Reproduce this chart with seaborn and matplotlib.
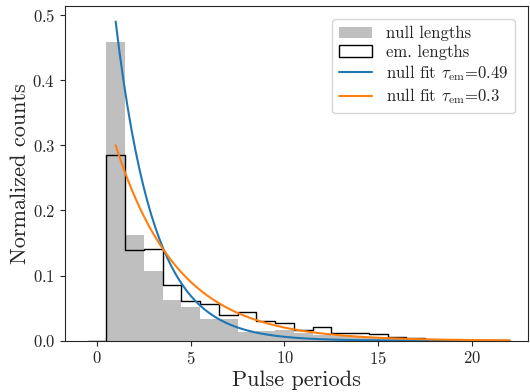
import numpy as np
import pandas as pd
import matplotlib
matplotlib.use("Agg")
import matplotlib.pyplot as plt
import seaborn as sns
from matplotlib.patches import Patch
from matplotlib.lines import Line2D

# ---- data (normalized counts per 1-period bin) ----
null_periods = list(range(1, 22))
null_heights = [0.459, 0.162, 0.1075, 0.062, 0.052, 0.034, 0.034, 0.0129, 0.015,
                0.017, 0.012, 0.009, 0.007, 0.005, 0.004, 0.003, 0.002, 0.0015,
                0.001, 0.001, 0.001]
em_periods = list(range(0, 22))
em_heights = [0.0, 0.285, 0.139, 0.141, 0.086, 0.0614, 0.0559, 0.0395, 0.0446,
              0.0307, 0.0277, 0.017, 0.0215, 0.0125, 0.0125, 0.0105, 0.006,
              0.0036, 0.0, 0.0, 0.0, 0.0]
# exponential fit curves: rate tau, starting at 1 pulse period
fit_taus = [0.49, 0.3]
fit_labels = [r"null fit $\tau_{\rm em}$=0.49", r"null fit $\tau_{\rm em}$=0.3"]
fit_colors = ["#1f77b4", "#ff7f0e"]
fit_x = np.linspace(1, 22, 200)

null_df = pd.DataFrame({"period": null_periods, "h": null_heights})
em_df = pd.DataFrame({"period": em_periods, "h": em_heights})

sns.set_style("ticks")
plt.rcParams["font.family"] = "serif"
plt.rcParams["font.serif"] = ["cmr10"]
plt.rcParams["mathtext.fontset"] = "cm"
plt.rcParams["axes.formatter.use_mathtext"] = True
plt.rcParams["axes.unicode_minus"] = False

fig = plt.figure(figsize=(5.30, 3.92), dpi=100)
ax = fig.add_axes([65/530, 1-340.7/392, 463/530, (340.7-6)/392])

sns.histplot(data=null_df, x="period", weights="h",
             binwidth=1, binrange=(0.5, 21.5), stat="count",
             element="bars", color="gray", alpha=0.5, linewidth=0,
             ax=ax)
sns.histplot(data=em_df, x="period", weights="h",
             binwidth=1, binrange=(-0.5, 21.5), stat="count",
             element="step", fill=False, color="black", linewidth=1.0,
             ax=ax)
for tau, col in zip(fit_taus, fit_colors):
    fit_df = pd.DataFrame({"x": fit_x, "y": tau * np.exp(-tau * (fit_x - 1))})
    sns.lineplot(data=fit_df, x="x", y="y", color=col, linewidth=1.5, ax=ax)

ax.set_xlim(-1.70, 22.98)
ax.set_ylim(0, 0.5138)
ax.set_yticks([0.0, 0.1, 0.2, 0.3, 0.4, 0.5])
ax.set_xticks([0, 5, 10, 15, 20])
ax.tick_params(labelsize=12, direction="out", length=3.5, width=0.8)
ax.set_xlabel("Pulse periods", fontsize=16, labelpad=2)
ax.set_ylabel("Normalized counts", fontsize=16, labelpad=2)
for s in ax.spines.values():
    s.set_linewidth(0.8)

handles = [Patch(facecolor="gray", alpha=0.5, edgecolor="none"),
           Patch(facecolor="none", edgecolor="black"),
           Line2D([], [], color=fit_colors[0], linewidth=1.5),
           Line2D([], [], color=fit_colors[1], linewidth=1.5)]
labels = ["null lengths", "em. lengths"] + fit_labels
ax.legend(handles, labels, loc="upper right", fontsize=12, frameon=True,
          fancybox=True, framealpha=0.8, edgecolor="0.8",
          labelspacing=0.2, borderaxespad=0.8)

fig.savefig("out.png", dpi=100)
